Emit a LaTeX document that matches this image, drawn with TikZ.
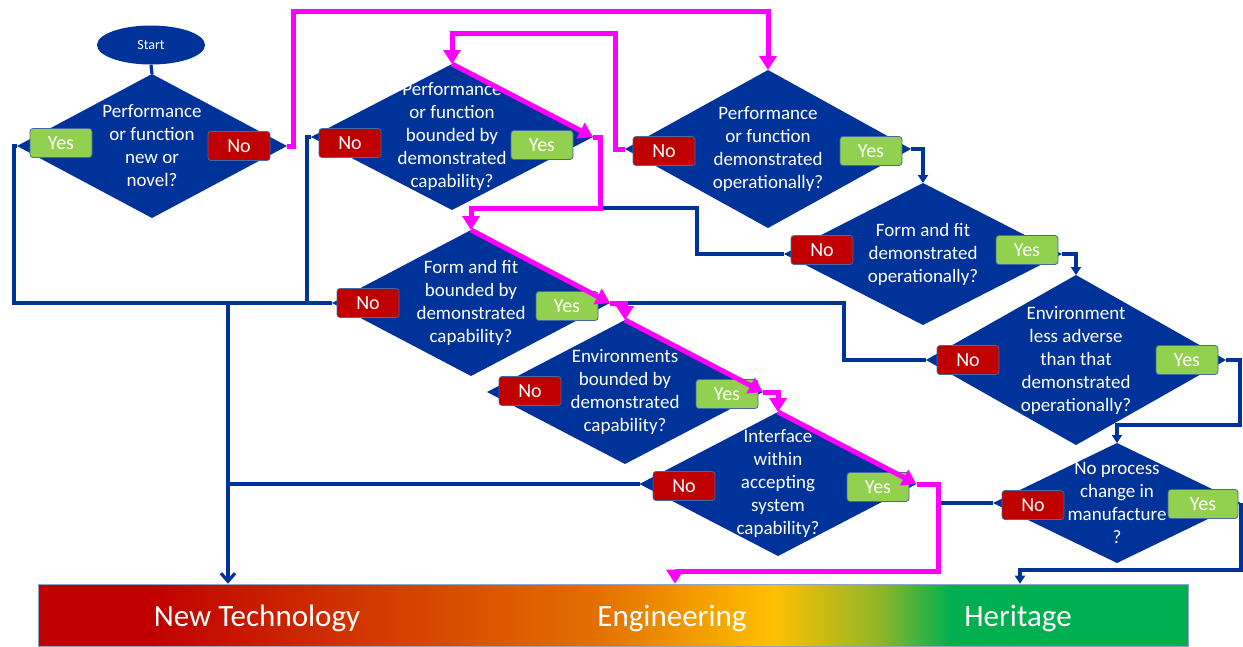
\documentclass[tikz,border=0pt]{standalone}
\usepackage{fontspec}
\setmainfont{Carlito}
\usepackage{tikz}
\usetikzlibrary{calc, positioning, arrows.meta, shapes.geometric}
\usepackage{xcolor}
\definecolor{flowblue}{RGB}{0, 51, 153}
\definecolor{yesgreen}{RGB}{146, 208, 80}
\definecolor{nored}{RGB}{192, 0, 0}
\definecolor{boxedge}{RGB}{70, 105, 160}
\definecolor{pathpink}{RGB}{255, 0, 255}
\definecolor{techred}{RGB}{192, 0, 0}
\definecolor{techorange}{RGB}{212, 64, 0}
\definecolor{engorange}{RGB}{227, 112, 0}
\definecolor{enggold}{RGB}{255, 192, 0}
\definecolor{heritlime}{RGB}{142, 182, 40}
\definecolor{heritgreen}{RGB}{0, 176, 80}
\pgfdeclarehorizontalshading{maturity}{100bp}{color(0bp)=(techred); color(25bp)=(techred);
  color(29.9bp)=(techred); color(40.7bp)=(techorange); color(49.4bp)=(engorange);
  color(57bp)=(enggold); color(61.6bp)=(heritlime); color(64.7bp)=(heritgreen);
  color(75bp)=(heritgreen); color(100bp)=(heritgreen)}

\begin{document}
\begin{tikzpicture}[x=1pt, y=-1pt,
  decision/.style={diamond, fill=flowblue, inner sep=0pt, outer sep=0pt},
  question/.style={text=white, align=center, inner sep=0pt, font=\fontsize{19}{23}\selectfont},
  answer/.style={rounded corners=3pt, draw=boxedge, line width=0.8pt, text=white,
    minimum width=62pt, minimum height=29pt, inner sep=0pt, font=\fontsize{20}{22}\selectfont},
  yesbox/.style={answer, fill=yesgreen},
  nobox/.style={answer, fill=nored},
  flow/.style={draw=flowblue, line width=3.2pt},
  blip/.style={-{Triangle[length=8pt, width=10pt]}},
  barb/.style={-{Straight Barb[length=8pt, width=14pt]}},
  taken/.style={draw=pathpink, line width=5pt, -{Triangle[length=14pt, width=17pt]}},
  level/.style={text=white, font=\fontsize{31}{36}\selectfont}]
  \useasboundingbox (0,0) rectangle (1243,646);

  % Maturity scale
  \node[shading=maturity, draw=boxedge!60, line width=0.6pt, minimum width=1150pt,
    minimum height=62pt, inner sep=0pt] (bar) at (613,615) {};
  \node[level] (newtech) at (257,618) {New Technology};
  \node[level] (engtext) at (672,618) {Engineering};
  \node[level] (heritage) at (1018,618) {Heritage};

  % Start and decisions
  \node[ellipse, fill=flowblue, minimum width=108pt, minimum height=39pt, inner sep=0pt,
    text=white, font=\fontsize{14}{16}\selectfont] (start) at (151,45) {Start};
  \node[decision, minimum width=270pt, minimum height=144pt] (d1) at (152,146) {};
  \node[decision, minimum width=282pt, minimum height=146pt] (d2) at (452,137) {};
  \node[decision, minimum width=286pt, minimum height=158pt] (d3) at (768,149) {};
  \node[decision, minimum width=278pt, minimum height=142pt] (d4) at (923,254) {};
  \node[decision, minimum width=300pt, minimum height=170pt] (d5) at (1076,360) {};
  \node[decision, minimum width=278pt, minimum height=146pt] (d6) at (471,303) {};
  \node[decision, minimum width=276pt, minimum height=144pt] (d7) at (625,392) {};
  \node[decision, minimum width=277pt, minimum height=144pt] (d8) at (778,484) {};
  \node[decision, minimum width=248pt, minimum height=120pt] (d9) at (1117,503) {};

  % Answers
  \node[yesbox] (d1y) at (61,143) {Yes};
  \node[nobox] (d1n) at (239,146) {No};
  \node[nobox] (d2n) at (350,143) {No};
  \node[yesbox] (d2y) at (542,145) {Yes};
  \node[nobox] (d3n) at (664,151) {No};
  \node[yesbox] (d3y) at (871,151) {Yes};
  \node[nobox] (d4n) at (822,250) {No};
  \node[yesbox] (d4y) at (1027,250) {Yes};
  \node[nobox] (d5n) at (968,360) {No};
  \node[yesbox] (d5y) at (1187,360) {Yes};
  \node[nobox] (d6n) at (368,303) {No};
  \node[yesbox] (d6y) at (567,306) {Yes};
  \node[nobox] (d7n) at (530,391) {No};
  \node[yesbox] (d7y) at (727,394) {Yes};
  \node[nobox] (d8n) at (684,486) {No};
  \node[yesbox] (d8y) at (878,487) {Yes};
  \node[nobox] (d9n) at (1033,505) {No};
  \node[yesbox, minimum width=70pt] (d9y) at (1203,504) {Yes};

  \node[question] (q1) at (d1.center) {Performance\\or function\\new or\\novel?};
  \node[question] (q2) at (d2.center) {Performance\\or function\\bounded by\\demonstrated\\capability?};
  \node[question] (q3) at (d3.center) {Performance\\or function\\demonstrated\\operationally?};
  \node[question] (q4) at (d4.center) {Form and fit\\demonstrated\\operationally?};
  \node[question] (q5) at (d5.center) {Environment\\less adverse\\than that\\demonstrated\\operationally?};
  \node[question] (q6) at (d6.center) {Form and fit\\bounded by\\demonstrated\\capability?};
  \node[question] (q7) at (d7.center) {Environments\\bounded by\\demonstrated\\capability?};
  \node[question] (q8) at (d8.center) {Interface\\within\\accepting\\system\\capability?};
  \node[question] (q9) at (d9.center) {No process\\change in\\manufacture\\?};

  % Junctions
  \coordinate (nt) at (228,303);
  \coordinate (m1) at (768,11);
  \coordinate (m2) at (452,33);
  \coordinate (j2) at (600,208);
  \coordinate (m3) at (938,571);
  \coordinate (eng) at (675,571);
  \coordinate (rt1) at (1240,425);
  \coordinate (hin) at (1020,570);

  % Blue connectors
  \draw[flow] (start.south) -- (d1.north);
  \draw[flow] (d1.west) -- ++(-3,0) |- (nt);
  \draw[flow] (d2.west) -- ++(-4,0) |- (nt);
  \draw[flow] (d6.west) -- (nt);
  \draw[flow, barb] (nt) -- (nt |- bar.north);
  \draw[flow] (d8.west) -- (d8.west -| nt);
  \draw[flow, blip] (d3.east) -| (d4.north);
  \draw[flow, blip] (d4.east) -| (d5.north);
  \draw[flow, blip] (d5.east) -| (rt1) -| (d9.north);
  \draw[flow, blip] (d9.east) |- (hin) -- (hin |- bar.north);
  \draw[flow] (d4.west) -- ++(-87,0) |- (j2);
  \draw[flow] (d5.west) -- ++(-82,0) |- (d6.east -| d7.north);
  \draw[flow] (d9.west) -- (d9.west -| m3);

  % Path taken
  \draw[taken] (d1.east) -- ++(6,0) |- (m1) -- (d3.north);
  \draw[taken] (d3.west) -- ++(-10,0) |- (m2) -- (d2.north);
  \foreach \d in {d2,d6,d7,d8} {
    \draw[taken] (\d.north) -- (\d.east);
  }
  \draw[taken] (d2.east) -| (j2) -| (d6.north);
  \draw[taken] (d6.east) -| (d7.north);
  \draw[taken] (d7.east) -| (d8.north);
  \draw[taken] (d8.east) -| (m3) -- (eng) -- (eng |- bar.north);
\end{tikzpicture}
\end{document}
